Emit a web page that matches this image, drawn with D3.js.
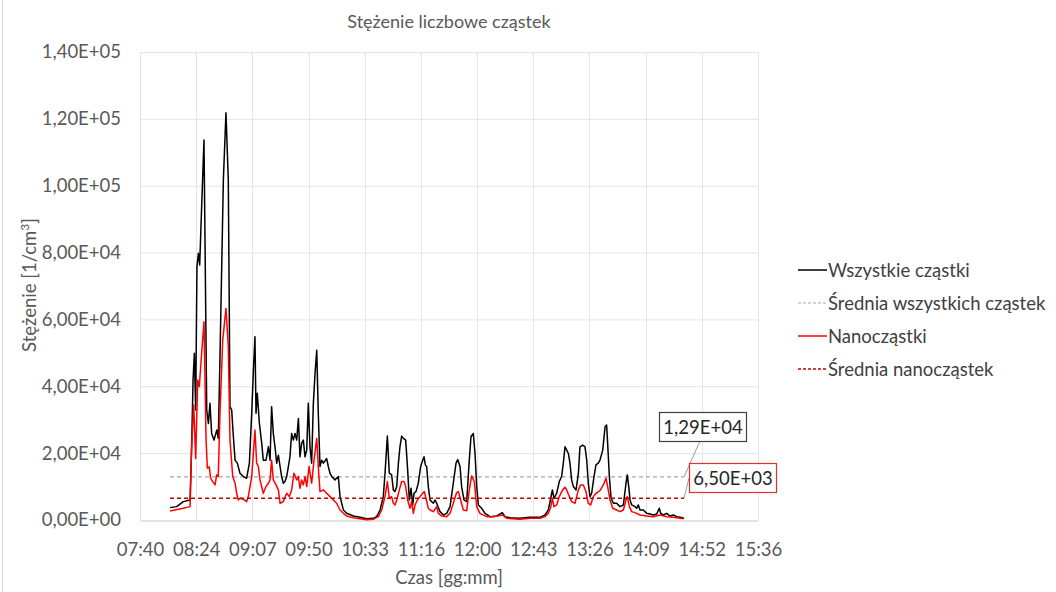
<!DOCTYPE html>
<html>
<head>
<meta charset="utf-8">
<script src="https://cdn.jsdelivr.net/npm/d3@7"></script>
<style>
  body { margin: 0; background: #fff; }
  svg text { font-family: Lato, "Open Sans", sans-serif; }
</style>
</head>
<body>
<div id="area"></div>
<script>
// time in minutes since midnight, concentration in 1/cm3
const allTimes = [483.9, 489.0, 494.1, 499.3, 500.5, 501.6, 502.6, 503.6, 504.6, 505.7, 506.7, 508.2, 510.0, 512.1, 513.4, 514.6, 515.9, 517.7, 519.8, 521.0, 522.3, 524.9, 526.9, 528.7, 530.0, 531.3, 532.6, 533.9, 535.6, 537.7, 540.3, 542.8, 544.9, 546.7, 548.0, 549.2, 550.0, 551.0, 552.6, 554.4, 555.6, 557.7, 559.5, 560.8, 562.0, 563.3, 564.6, 565.9, 567.2, 568.5, 569.7, 571.0, 572.3, 573.6, 576.1, 577.4, 578.7, 580.0, 581.3, 582.6, 583.8, 585.1, 586.4, 587.7, 589.0, 590.2, 591.5, 592.8, 594.1, 595.4, 596.7, 597.9, 599.2, 600.5, 601.8, 604.3, 605.6, 606.9, 608.2, 610.7, 613.3, 614.6, 617.2, 619.7, 624.9, 630.0, 635.1, 640.2, 642.8, 645.4, 647.9, 649.2, 651.0, 652.5, 654.3, 655.6, 656.9, 658.2, 659.5, 660.7, 662.0, 663.3, 665.1, 666.6, 667.9, 669.2, 670.5, 671.5, 673.0, 674.8, 676.6, 678.2, 679.2, 680.2, 681.2, 682.5, 683.8, 686.4, 687.6, 688.9, 691.5, 694.1, 696.6, 699.2, 701.7, 703.8, 705.1, 706.9, 708.1, 709.9, 712.0, 714.0, 715.3, 717.1, 718.4, 719.7, 721.0, 723.5, 726.1, 729.9, 735.1, 739.4, 741.5, 745.3, 753.0, 760.7, 768.4, 772.2, 774.8, 776.6, 777.9, 779.1, 781.2, 783.2, 785.0, 786.3, 787.6, 788.9, 790.2, 791.4, 792.7, 794.0, 796.1, 797.9, 799.1, 801.2, 803.0, 804.3, 805.5, 806.8, 808.1, 809.9, 811.4, 813.2, 814.5, 816.6, 818.4, 819.6, 820.4, 821.7, 823.0, 824.8, 827.3, 829.9, 832.5, 834.5, 835.5, 836.6, 837.6, 838.9, 841.4, 842.7, 844.0, 845.3, 847.8, 850.4, 853.0, 855.5, 858.1, 860.1, 861.2, 863.2, 865.8, 868.3, 870.9, 873.5, 876.0, 879.1];
const allValues = [3700, 4000, 5500, 6000, 21900, 41900, 49900, 32900, 75800, 79800, 76300, 93700, 113700, 32900, 28900, 34900, 25900, 23900, 26900, 24400, 48800, 101700, 121800, 101700, 33900, 32900, 24900, 17900, 17000, 14000, 13000, 12500, 17000, 31900, 44900, 54800, 31900, 37900, 28900, 22900, 17900, 17900, 21900, 17900, 33900, 25900, 21900, 17000, 19400, 16000, 13000, 11000, 11500, 13000, 18900, 25900, 23900, 25900, 23900, 30400, 18900, 22900, 23900, 18900, 20900, 34900, 21900, 17000, 34900, 43900, 50800, 31900, 16000, 17900, 17000, 18400, 16000, 14000, 13000, 12000, 13000, 7000, 3000, 2000, 1200, 800, 400, 500, 1000, 3000, 7000, 14000, 25100, 14000, 13500, 9000, 8500, 10000, 17000, 21900, 25100, 24400, 23900, 15000, 6000, 9500, 4500, 8000, 8500, 11000, 16000, 17900, 18900, 16500, 16000, 10000, 6000, 5000, 6000, 5000, 2500, 1500, 2000, 4000, 11000, 17000, 18100, 16000, 10000, 6000, 5500, 17900, 24900, 25900, 19900, 10000, 4500, 3500, 2000, 1000, 1200, 2200, 1000, 700, 500, 800, 800, 1500, 3000, 6500, 9000, 6500, 8000, 11500, 13000, 17000, 21900, 20900, 19900, 17000, 12000, 10000, 9000, 14000, 21900, 22400, 21900, 17900, 11000, 7000, 8000, 13000, 16500, 17000, 17900, 20900, 27900, 28400, 22900, 13000, 6500, 5000, 5000, 4000, 4500, 11000, 13500, 10000, 6000, 4500, 4000, 3500, 4500, 3000, 3000, 2000, 1800, 1500, 1800, 3500, 2000, 1500, 2000, 1200, 1500, 1000, 800, 500];

const nanoTimes = [483.9, 494.1, 499.3, 500.5, 502.1, 503.6, 505.2, 506.4, 508.2, 510.0, 511.6, 512.6, 514.1, 515.1, 516.7, 518.5, 519.8, 521.0, 522.3, 524.4, 526.9, 528.7, 530.0, 532.1, 533.9, 535.1, 536.4, 537.7, 540.3, 542.8, 544.1, 546.7, 549.2, 550.5, 551.8, 553.1, 555.6, 557.7, 559.5, 560.8, 562.0, 563.3, 565.4, 567.2, 568.5, 571.0, 573.6, 575.6, 577.4, 579.2, 581.3, 582.6, 583.8, 585.1, 586.4, 587.7, 589.0, 590.8, 592.8, 594.6, 596.7, 597.9, 599.2, 601.8, 604.3, 606.9, 609.5, 612.0, 614.6, 617.2, 619.7, 624.9, 630.0, 635.1, 640.2, 644.1, 646.6, 649.2, 651.0, 652.5, 654.3, 655.6, 656.9, 658.2, 660.2, 662.0, 663.8, 665.1, 666.6, 668.4, 669.7, 671.0, 672.3, 674.1, 676.1, 678.2, 679.4, 680.7, 682.5, 683.8, 686.4, 688.9, 690.2, 692.8, 696.6, 699.2, 701.7, 704.3, 705.6, 707.4, 709.4, 712.0, 714.0, 715.8, 717.9, 719.7, 722.2, 727.4, 732.5, 739.7, 742.8, 753.0, 760.7, 768.4, 772.2, 774.8, 776.6, 777.9, 779.1, 781.2, 783.2, 785.8, 787.6, 788.9, 790.9, 792.7, 795.3, 797.9, 799.6, 801.7, 803.7, 805.5, 807.3, 809.4, 811.4, 814.5, 817.1, 819.1, 820.4, 822.2, 824.3, 827.3, 829.9, 832.5, 834.5, 835.5, 837.1, 838.9, 841.4, 845.3, 850.4, 855.5, 860.6, 865.8, 870.9, 878.6];
const nanoValues = [2700, 3500, 4000, 21900, 34400, 18400, 41900, 39900, 49900, 59300, 23900, 15500, 15900, 12500, 11500, 10500, 13500, 13000, 31900, 53800, 63300, 51800, 23900, 13000, 11000, 8000, 6000, 6500, 6200, 5500, 7000, 13000, 26900, 17000, 16000, 12000, 8000, 10000, 11000, 12000, 17900, 12000, 10500, 9000, 5000, 5500, 8000, 7000, 9000, 14000, 12000, 13000, 9500, 12000, 10500, 13000, 10000, 16000, 11000, 17900, 24400, 16000, 8500, 9000, 8000, 7000, 6000, 5000, 3000, 2000, 1200, 700, 400, 100, 200, 1000, 3000, 7000, 11500, 6500, 7000, 5000, 4500, 6000, 9000, 11500, 11500, 10000, 6000, 3500, 5500, 2000, 4500, 6000, 7000, 8000, 8500, 6500, 3500, 3000, 2500, 4000, 2000, 1200, 1000, 2000, 5000, 8200, 8500, 6000, 3000, 2800, 9000, 13200, 11500, 4000, 2000, 1000, 1000, 1500, 500, 200, 500, 500, 1000, 2000, 3800, 6500, 4000, 4500, 7000, 9000, 9800, 9000, 7000, 5500, 5000, 9000, 10500, 10500, 8500, 5000, 4500, 7000, 8000, 8800, 10500, 12500, 10000, 6000, 3500, 3000, 2500, 3000, 6000, 7000, 4000, 2500, 2200, 1500, 1200, 1000, 1500, 1000, 800, 400];

const meanAll = 12900;
const meanNano = 6500;
const meanLabels = ['1,29E+04', '6,50E+03'];

const legendNames = ['Wszystkie cząstki', 'Średnia wszystkich cząstek', 'Nanocząstki', 'Średnia nanocząstek'];

// axis: Excel date axis 0.32 .. 0.65 day, major unit 0.03 day
const xStart = 0.32 * 1440, xEnd = 0.65 * 1440, xStep = 0.03 * 1440;
const yTicks = [0, 20000, 40000, 60000, 80000, 100000, 120000, 140000];

var width = 1056, height = 592;
var margin = { left: 140, right: 758, top: 52, bottom: 520 };
var text_color = '#595959';
var font_size = '18.5px';

var svg = d3.select('#area').append('svg')
    .attr('width', width)
    .attr('height', height);

svg.append('rect').attr('x', 0).attr('y', 0).attr('width', width).attr('height', height).attr('fill', '#fff');
svg.append('line').attr('x1', 2.5).attr('x2', 2.5).attr('y1', 0).attr('y2', height).attr('stroke', '#d9d9d9');

var x = d3.scaleLinear().domain([xStart, xEnd]).range([margin.left, margin.right]);
var y = d3.scaleLinear().domain([0, 140000]).range([margin.bottom, margin.top]);

function fmtTime(m) {
    m = Math.floor(m + 1e-6);
    return String(Math.floor(m / 60)).padStart(2, '0') + ':' + String(m % 60).padStart(2, '0');
}

function fmtSci(v) {
    if (v === 0) return '0,00E+00';
    var e = Math.floor(Math.log10(v));
    var mant = (v / Math.pow(10, e)).toFixed(2).replace('.', ',');
    return mant + 'E+' + String(e).padStart(2, '0');
}

var xTicks = d3.range(0, 12).map(i => xStart + i * xStep);

// gridlines
svg.append('g').selectAll('line').data(yTicks.slice(1)).join('line')
    .attr('x1', margin.left).attr('x2', margin.right)
    .attr('y1', d => y(d) + 0.5).attr('y2', d => y(d) + 0.5)
    .attr('stroke', '#e4e4e4');
svg.append('g').selectAll('line').data(xTicks).join('line')
    .attr('x1', d => Math.round(x(d)) + 0.5).attr('x2', d => Math.round(x(d)) + 0.5)
    .attr('y1', margin.top).attr('y2', margin.bottom)
    .attr('stroke', '#e4e4e4');

// axes
var xAxis = svg.append('g')
    .attr('transform', 'translate(0,' + (margin.bottom + 0.5) + ')')
    .call(d3.axisBottom(x).tickValues(xTicks).tickFormat(fmtTime).tickSize(0).tickPadding(22));
xAxis.select('.domain').attr('stroke', '#c8c8c8');
xAxis.selectAll('text').attr('font-size', font_size).attr('fill', text_color);

var yAxis = svg.append('g')
    .attr('transform', 'translate(' + margin.left + ',0)')
    .call(d3.axisLeft(y).tickValues(yTicks).tickFormat(fmtSci).tickSize(0).tickPadding(19));
yAxis.select('.domain').remove();
yAxis.selectAll('text').attr('font-size', font_size).attr('fill', text_color);

// series
var line = d3.line().x(d => x(d[0])).y(d => y(d[1]));

var meanAllPts = [[allTimes[0], meanAll], [allTimes[allTimes.length - 1], meanAll]];
var meanNanoPts = [[allTimes[0], meanNano], [allTimes[allTimes.length - 1], meanNano]];

svg.append('path').datum(meanAllPts).attr('d', line)
    .attr('fill', 'none').attr('stroke', '#a6a6a6').attr('stroke-width', 1.3).attr('stroke-dasharray', '4,3');

svg.append('path').datum(d3.zip(allTimes, allValues)).attr('d', line)
    .attr('fill', 'none').attr('stroke', '#000').attr('stroke-width', 1.5).attr('stroke-linejoin', 'round');

svg.append('path').datum(d3.zip(nanoTimes, nanoValues)).attr('d', line)
    .attr('fill', 'none').attr('stroke', '#ff0000').attr('stroke-width', 1.5).attr('stroke-linejoin', 'round');

svg.append('path').datum(meanNanoPts).attr('d', line)
    .attr('fill', 'none').attr('stroke', '#c00000').attr('stroke-width', 1.6).attr('stroke-dasharray', '4,3');

// data labels with leader lines
var endX = x(allTimes[allTimes.length - 1]);
var labels = [
    { text: meanLabels[0], v: meanAll, bx: 659, by: 412, lx: 700, ly: 441, border: '#404040' },
    { text: meanLabels[1], v: meanNano, bx: 689, by: 463, lx: 689, ly: 478, border: '#e03030' }
];
labels.forEach(function (l) {
    var w = 87, h = 29;
    svg.append('line')
        .attr('x1', endX).attr('y1', y(l.v))
        .attr('x2', l.lx).attr('y2', l.ly)
        .attr('stroke', '#7f7f7f').attr('stroke-width', 0.8);
    svg.append('rect')
        .attr('x', l.bx + 0.5).attr('y', l.by + 0.5).attr('width', w).attr('height', h)
        .attr('fill', '#fff').attr('stroke', l.border).attr('stroke-width', 1.2);
    svg.append('text')
        .attr('x', l.bx + w / 2 + 0.5).attr('y', l.by + h / 2 + 7)
        .attr('text-anchor', 'middle').attr('font-size', font_size).attr('fill', '#262626')
        .text(l.text);
});

// titles
svg.append('text').attr('x', 449).attr('y', 28).attr('text-anchor', 'middle')
    .attr('font-size', '18px').attr('fill', text_color).text('Stężenie liczbowe cząstek');

svg.append('text').attr('x', 449).attr('y', 584).attr('text-anchor', 'middle')
    .attr('font-size', font_size).attr('fill', text_color).text('Czas [gg:mm]');

var yt = svg.append('text')
    .attr('transform', 'translate(36,285) rotate(-90)')
    .attr('text-anchor', 'middle').attr('font-size', font_size).attr('fill', text_color);
yt.append('tspan').text('Stężenie [1/cm');
yt.append('tspan').attr('font-size', '12px').attr('dy', -7).text('3');
yt.append('tspan').attr('dy', 7).text(']');

// legend
var legendStyles = [
    { stroke: '#000', dash: null, w: 1.5 },
    { stroke: '#a6a6a6', dash: '3,2', w: 1.2 },
    { stroke: '#ff0000', dash: null, w: 1.5 },
    { stroke: '#c00000', dash: '3,2', w: 1.5 }
];
var legend = svg.append('g').attr('transform', 'translate(798,270)');
legendNames.forEach(function (name, i) {
    var g = legend.append('g').attr('transform', 'translate(0,' + (i * 33) + ')');
    g.append('line').attr('x1', 0).attr('x2', 29).attr('y1', 0).attr('y2', 0)
        .attr('stroke', legendStyles[i].stroke).attr('stroke-width', legendStyles[i].w)
        .attr('stroke-dasharray', legendStyles[i].dash);
    g.append('text').attr('x', 30).attr('y', 6.5).attr('font-size', font_size).attr('fill', '#404040').text(name);
});
</script>
</body>
</html>
